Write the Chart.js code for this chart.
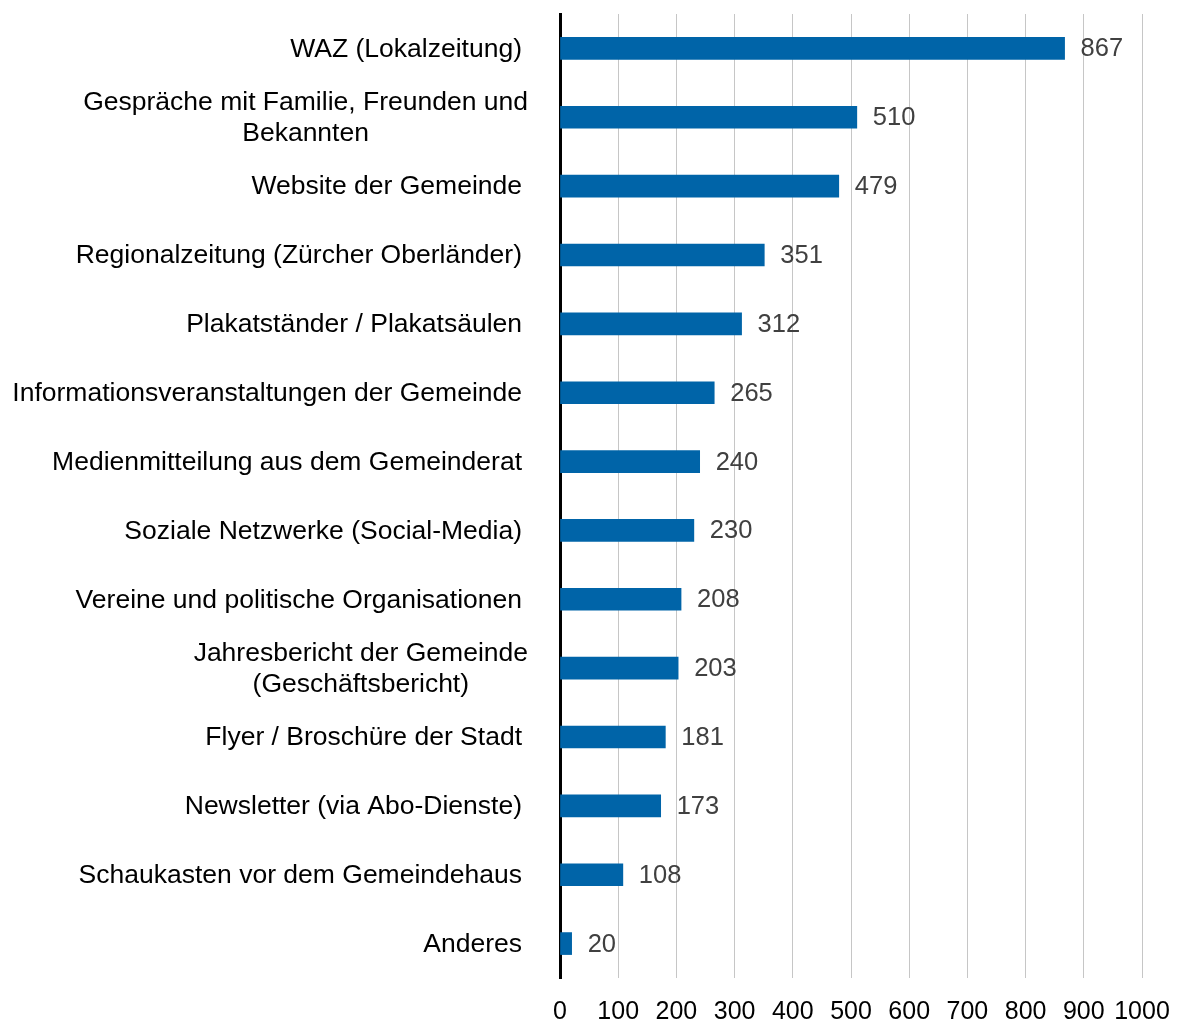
<!DOCTYPE html>
<html>
<head>
<meta charset="utf-8">
<script src="https://cdn.jsdelivr.net/npm/chart.js@4.4.1/dist/chart.umd.min.js"></script>
<style>
  body { margin: 0; background: #fff; }
</style>
</head>
<body>
<canvas id="mainChart" width="1181" height="1023"></canvas>
<script>
const categories = [
    ['WAZ (Lokalzeitung)'],
    ['Gespräche mit Familie, Freunden und', 'Bekannten'],
    ['Website der Gemeinde'],
    ['Regionalzeitung (Zürcher Oberländer)'],
    ['Plakatständer / Plakatsäulen'],
    ['Informationsveranstaltungen der Gemeinde'],
    ['Medienmitteilung aus dem Gemeinderat'],
    ['Soziale Netzwerke (Social-Media)'],
    ['Vereine und politische Organisationen'],
    ['Jahresbericht der Gemeinde', '(Geschäftsbericht)'],
    ['Flyer / Broschüre der Stadt'],
    ['Newsletter (via Abo-Dienste)'],
    ['Schaukasten vor dem Gemeindehaus'],
    ['Anderes']
];
const counts = [867, 510, 479, 351, 312, 265, 240, 230, 208, 203, 181, 173, 108, 20];
const xTicks = [0, 100, 200, 300, 400, 500, 600, 700, 800, 900, 1000];

const FONT = '"Liberation Sans", Arial, sans-serif';
const ctx = document.getElementById('mainChart');

// category labels: single lines right aligned, two-line labels centered as a block
const categoryLabels = {
    id: 'categoryLabels',
    afterDraw(chart) {
        const c = chart.ctx;
        const y = chart.scales.y;
        const left = chart.chartArea.left;
        c.save();
        c.font = '26.5px ' + FONT;
        c.fillStyle = '#000';
        c.textBaseline = 'middle';
        categories.forEach((lines, i) => {
            const cy = y.getPixelForValue(i) + 1;
            if (lines.length === 1) {
                c.textAlign = 'right';
                c.fillText(lines[0], left - 38, cy);
            } else {
                const w = Math.max(...lines.map(l => c.measureText(l).width));
                const mid = left - 32 - w / 2;
                c.textAlign = 'center';
                lines.forEach((l, k) => {
                    c.fillText(l, mid, cy + (k - (lines.length - 1) / 2) * 31);
                });
            }
        });
        c.restore();
    }
};

const valueLabels = {
    id: 'valueLabels',
    afterDatasetsDraw(chart) {
        const c = chart.ctx;
        const meta = chart.getDatasetMeta(0);
        c.save();
        c.font = '25.5px ' + FONT;
        c.fillStyle = '#404040';
        c.textAlign = 'left';
        c.textBaseline = 'middle';
        meta.data.forEach((bar, i) => {
            c.fillText(String(counts[i]), bar.x + 16, bar.y + 1);
        });
        c.restore();
    }
};

new Chart(ctx, {
    type: 'bar',
    data: {
        labels: categories.map(l => l.join(' ')),
        datasets: [{
            data: counts,
            backgroundColor: '#0064A8',
            borderWidth: 0,
            barThickness: 22
        }]
    },
    options: {
        indexAxis: 'y',
        responsive: false,
        animation: false,
        layout: { padding: { left: 560, right: 39, top: 14, bottom: 0 } },
        plugins: {
            legend: { display: false },
            tooltip: { enabled: false }
        },
        scales: {
            x: {
                min: 0,
                max: 1000,
                afterBuildTicks: axis => { axis.ticks = xTicks.map(v => ({ value: v })); },
                afterFit: axis => {
                    axis.height = 45;
                    axis.paddingLeft = 0;
                    axis.paddingRight = 0;
                },
                grid: { color: '#c6c6c6', lineWidth: 1, drawTicks: false },
                border: { display: false },
                ticks: {
                    color: '#000',
                    font: { family: FONT, size: 25 },
                    padding: 19,
                    maxRotation: 0,
                    autoSkip: false,
                    callback: v => String(v)
                }
            },
            y: {
                afterFit: axis => { axis.width = 0; },
                grid: { display: false },
                border: { display: true, color: '#000', width: 3 },
                ticks: { display: false }
            }
        }
    },
    plugins: [categoryLabels, valueLabels]
});
</script>
</body>
</html>
